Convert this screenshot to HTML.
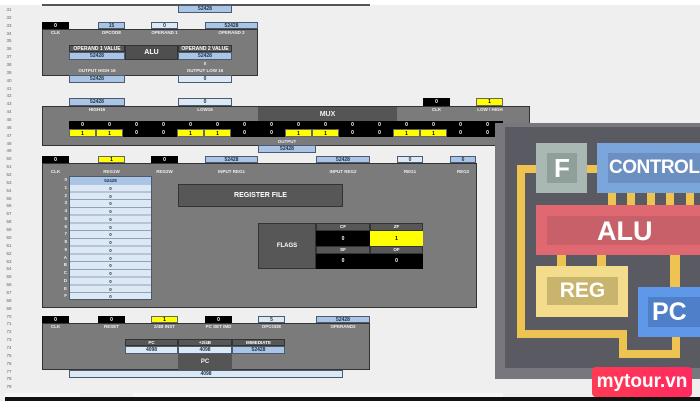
<!DOCTYPE html>
<html><head><meta charset="utf-8"><style>
*{margin:0;padding:0;box-sizing:border-box}
body{width:700px;height:408px;overflow:hidden;background:#efefef;position:relative;font-family:"Liberation Sans",sans-serif}
div{position:absolute}
.c{text-align:center;font-size:5px;font-weight:bold;line-height:8px;display:flex;align-items:center;justify-content:center}
.k{background:#000;color:#fff}
.y{background:#ffff00;color:#000;border:1px solid #666}
.bl{background:#a9c4e4;color:#234;border:1px solid #4a5a70}
.lt{background:#dde8f5;color:#234;border:1px solid #4a5a70}
.p{background:#7b7b7b;border:1px solid #333}
.dk{background:#575757;color:#fff;border:1px solid #333}
.lb{color:#eee;font-size:4.5px;font-weight:bold;text-align:center;line-height:6px}
.g{display:flex;flex-wrap:wrap}
.g span{width:27px;height:8px;font-size:5px;font-weight:bold;text-align:center;line-height:8px;color:#fff}
.g span.Y{background:#ffff00;color:#000;border:1px solid #666}
</style></head><body>
<div style="left:0;top:0;width:700px;height:5px;background:#fff"></div>
<div style="left:42px;top:4px;width:328px;height:2px;background:#555"></div>
<div style="left:2px;top:6px;width:14px;font-size:4.5px;line-height:7.86px;color:#666;text-align:center">31<br>32<br>33<br>34<br>35<br>36<br>37<br>38<br>39<br>40<br>41<br>42<br>43<br>44<br>45<br>46<br>47<br>48<br>49<br>50<br>51<br>52<br>53<br>54<br>55<br>56<br>57<br>58<br>59<br>60<br>61<br>62<br>63<br>64<br>65<br>66<br>67<br>68<br>69<br>70<br>71<br>72<br>73<br>74<br>75<br>76<br>77<br>78<br>79<br>80</div>

<div class="c bl" style="left:178px;top:5px;width:54px;height:8px">52428</div>
<div class="c k" style="left:42px;top:22px;width:27px;height:7px">0</div>
<div class="c bl" style="left:98px;top:22px;width:27px;height:7px">15</div>
<div class="c lt" style="left:151px;top:22px;width:27px;height:7px">0</div>
<div class="c bl" style="left:205px;top:22px;width:53px;height:7px">52428</div>
<div class="p" style="left:42px;top:29px;width:216px;height:47px"></div>
<div class="lb" style="left:42px;top:30px;width:27px">CLK</div>
<div class="lb" style="left:98px;top:30px;width:27px">OPCODE</div>
<div class="lb" style="left:151px;top:30px;width:27px">OPERAND 1</div>
<div class="lb" style="left:205px;top:30px;width:53px">OPERAND 2</div>
<div class="c dk" style="left:69px;top:45px;width:56px;height:7px">OPERAND 1 VALUE</div>
<div class="c bl" style="left:69px;top:52px;width:56px;height:8px">52428</div>
<div class="c dk" style="left:125px;top:45px;width:53px;height:15px;font-size:7px;background:#4f4f4f">ALU</div>
<div class="c dk" style="left:178px;top:45px;width:54px;height:7px">OPERAND 2 VALUE</div>
<div class="c bl" style="left:178px;top:52px;width:54px;height:8px">52428</div>
<div class="lb" style="left:178px;top:61px;width:54px">0</div>
<div class="lb" style="left:69px;top:68px;width:56px">OUTPUT HIGH 16</div>
<div class="lb" style="left:178px;top:68px;width:54px">OUTPUT LOW 16</div>
<div class="c bl" style="left:69px;top:75px;width:56px;height:8px">52428</div>
<div class="c lt" style="left:178px;top:75px;width:54px;height:8px">0</div>

<div class="c bl" style="left:69px;top:98px;width:56px;height:8px">52428</div>
<div class="c lt" style="left:178px;top:98px;width:54px;height:8px">0</div>
<div class="c k" style="left:423px;top:98px;width:27px;height:8px">0</div>
<div class="c y" style="left:476px;top:98px;width:27px;height:8px">1</div>
<div class="p" style="left:42px;top:106px;width:488px;height:40px"></div>
<div style="left:258px;top:107px;width:139px;height:15px;background:#555"></div>
<div class="c" style="left:258px;top:107px;width:139px;height:15px;color:#eee;font-size:7px">MUX</div>
<div class="lb" style="left:69px;top:107px;width:56px">HIGH16</div>
<div class="lb" style="left:178px;top:107px;width:54px">LOW16</div>
<div class="lb" style="left:423px;top:107px;width:27px">CLK</div>
<div class="lb" style="left:465px;top:107px;width:50px">LOW / HIGH</div>
<div class="g" style="left:69px;top:121px;width:434px;height:16px;background:#000">
<span>0</span><span>0</span><span>0</span><span>0</span><span>0</span><span>0</span><span>0</span><span>0</span><span>0</span><span>0</span><span>0</span><span>0</span><span>0</span><span>0</span><span>0</span><span>0</span>
<span class="Y">1</span><span class="Y">1</span><span>0</span><span>0</span><span class="Y">1</span><span class="Y">1</span><span>0</span><span>0</span><span class="Y">1</span><span class="Y">1</span><span>0</span><span>0</span><span class="Y">1</span><span class="Y">1</span><span>0</span><span>0</span></div>
<div class="lb" style="left:258px;top:139px;width:58px">OUTPUT</div>
<div class="c bl" style="left:258px;top:145px;width:58px;height:8px">52428</div>

<div class="c k" style="left:42px;top:156px;width:27px;height:7px">0</div>
<div class="c y" style="left:98px;top:156px;width:27px;height:7px">1</div>
<div class="c k" style="left:151px;top:156px;width:27px;height:7px">0</div>
<div class="c bl" style="left:205px;top:156px;width:53px;height:7px">52428</div>
<div class="c bl" style="left:316px;top:156px;width:54px;height:7px">52428</div>
<div class="c lt" style="left:397px;top:156px;width:26px;height:7px">0</div>
<div class="c bl" style="left:450px;top:156px;width:26px;height:7px">6</div>
<div class="p" style="left:42px;top:163px;width:435px;height:145px"></div>
<div class="lb" style="left:42px;top:169px;width:27px">CLK</div>
<div class="lb" style="left:98px;top:169px;width:27px">REG1W</div>
<div class="lb" style="left:151px;top:169px;width:27px">REG2W</div>
<div class="lb" style="left:205px;top:169px;width:53px">INPUT REG1</div>
<div class="lb" style="left:316px;top:169px;width:54px">INPUT REG2</div>
<div class="lb" style="left:397px;top:169px;width:26px">REG1</div>
<div class="lb" style="left:450px;top:169px;width:26px">REG2</div>
<div style="left:56px;top:176px;width:11px;font-size:4.5px;font-weight:bold;color:#eee;text-align:right;line-height:7.75px">0<br>1<br>2<br>3<br>4<br>5<br>6<br>7<br>8<br>9<br>A<br>B<br>C<br>D<br>E<br>F</div>
<div style="left:69px;top:176px;width:83px;height:124px;background:#dde8f5;border:1px solid #4a5a70;font-size:4.5px;font-weight:bold;color:#234;text-align:center;line-height:7.75px;background-image:repeating-linear-gradient(#dde8f5 0 6.75px,#8fa0b8 6.75px 7.75px)"><span style="background:#a9c4e4;display:block">52428</span>0<br>0<br>0<br>0<br>0<br>0<br>0<br>0<br>0<br>0<br>0<br>0<br>0<br>0<br>0</div>
<div class="c dk" style="left:178px;top:184px;width:165px;height:23px;font-size:7px">REGISTER FILE</div>
<div class="c dk" style="left:258px;top:223px;width:58px;height:46px;font-size:6px">FLAGS</div>
<div class="c dk" style="left:316px;top:223px;width:54px;height:8px;font-size:4.5px">CF</div>
<div class="c dk" style="left:370px;top:223px;width:53px;height:8px;font-size:4.5px">ZF</div>
<div class="c k" style="left:316px;top:231px;width:54px;height:15px">0</div>
<div class="c" style="left:370px;top:231px;width:53px;height:15px;background:#ffff00">1</div>
<div class="c dk" style="left:316px;top:246px;width:54px;height:8px;font-size:4.5px">SF</div>
<div class="c dk" style="left:370px;top:246px;width:53px;height:8px;font-size:4.5px">OF</div>
<div class="c k" style="left:316px;top:254px;width:107px;height:15px;display:block"><span style="position:absolute;left:0;width:54px;line-height:15px">0</span><span style="position:absolute;left:54px;width:53px;line-height:15px">0</span></div>

<div class="c k" style="left:42px;top:316px;width:27px;height:7px">0</div>
<div class="c k" style="left:98px;top:316px;width:27px;height:7px">0</div>
<div class="c y" style="left:151px;top:316px;width:27px;height:7px">1</div>
<div class="c k" style="left:205px;top:316px;width:27px;height:7px">0</div>
<div class="c lt" style="left:258px;top:316px;width:27px;height:7px">5</div>
<div class="c bl" style="left:316px;top:316px;width:54px;height:7px">52428</div>
<div class="p" style="left:42px;top:323px;width:328px;height:47px"></div>
<div class="lb" style="left:42px;top:324px;width:27px">CLK</div>
<div class="lb" style="left:98px;top:324px;width:27px">RESET</div>
<div class="lb" style="left:145px;top:324px;width:39px">2/4B INST</div>
<div class="lb" style="left:200px;top:324px;width:37px">PC SET IMD</div>
<div class="lb" style="left:258px;top:324px;width:27px">OPCODE</div>
<div class="lb" style="left:316px;top:324px;width:54px">OPERAND2</div>
<div class="c dk" style="left:125px;top:339px;width:53px;height:7px;font-size:4.5px">PC</div>
<div class="c dk" style="left:178px;top:339px;width:54px;height:7px;font-size:4.5px">+2/4B</div>
<div class="c dk" style="left:232px;top:339px;width:53px;height:7px;font-size:4.5px">IMMEDIATE</div>
<div class="c lt" style="left:125px;top:346px;width:53px;height:8px">4098</div>
<div class="c lt" style="left:178px;top:346px;width:54px;height:8px">4098</div>
<div class="c bl" style="left:232px;top:346px;width:53px;height:8px">52428</div>
<div class="c" style="left:178px;top:354px;width:54px;height:16px;background:#555;color:#eee;font-size:6px">PC</div>
<div class="c lt" style="left:69px;top:370px;width:274px;height:8px">4098</div>

<div style="left:5px;top:393px;width:75px;height:4px;background:#f6f6f6"></div>
<div style="left:133px;top:393px;width:370px;height:4px;background:#f6f6f6"></div>
<div style="left:5px;top:397px;width:695px;height:4px;background:#111"></div>
<div style="left:0;top:401px;width:700px;height:7px;background:#fff"></div>

<div style="left:495px;top:123px;width:205px;height:256px;background:#77777d"></div>
<div style="left:505px;top:127px;width:195px;height:241px;background:#5a5a62"></div>
<div style="left:517px;top:165px;width:8px;height:173px;background:#efc352"></div>
<div style="left:517px;top:165px;width:20px;height:8px;background:#efc352"></div>
<div style="left:517px;top:330px;width:110px;height:8px;background:#efc352"></div>
<div style="left:619px;top:330px;width:8px;height:28px;background:#efc352"></div>
<div style="left:619px;top:350px;width:61px;height:8px;background:#efc352"></div>
<div style="left:672px;top:330px;width:8px;height:28px;background:#efc352"></div>
<div style="left:586px;top:165px;width:12px;height:8px;background:#efc352"></div>
<div style="left:608px;top:192px;width:8px;height:14px;background:#efc352"></div>
<div style="left:627px;top:192px;width:8px;height:14px;background:#efc352"></div>
<div style="left:647px;top:192px;width:8px;height:14px;background:#efc352"></div>
<div style="left:666px;top:192px;width:8px;height:14px;background:#efc352"></div>
<div style="left:686px;top:192px;width:8px;height:14px;background:#efc352"></div>
<div style="left:557px;top:254px;width:9px;height:13px;background:#efc352"></div>
<div style="left:597px;top:254px;width:9px;height:13px;background:#efc352"></div>
<div style="left:670px;top:254px;width:10px;height:34px;background:#efc352"></div>
<div style="left:536px;top:143px;width:51px;height:50px;background:#a9b8b3"></div>
<div class="c" style="left:547px;top:153px;width:30px;height:30px;background:#8fa09b;color:#fff;font-size:26px">F</div>
<div style="left:597px;top:143px;width:103px;height:50px;background:#7aa6dc"></div>
<div style="left:608px;top:153px;width:92px;height:30px;background:#6a8fc0;color:#fff;font-size:19px;font-weight:bold;line-height:30px;padding-left:1px;white-space:nowrap;overflow:hidden;letter-spacing:-0.5px">CONTROL</div>
<div style="left:536px;top:205px;width:164px;height:50px;background:#e06870"></div>
<div class="c" style="left:547px;top:216px;width:153px;height:29px;background:#c8606a;color:#fff;font-size:27px;justify-content:flex-start;padding-left:50px">ALU</div>
<div style="left:536px;top:266px;width:92px;height:51px;background:#f3dc8c"></div>
<div class="c" style="left:547px;top:277px;width:71px;height:28px;background:#c8b46c;color:#fff;font-size:21px">REG</div>
<div style="left:638px;top:287px;width:62px;height:50px;background:#5f98e8"></div>
<div class="c" style="left:648px;top:297px;width:52px;height:30px;background:#4f7fc8;color:#fff;font-size:25px;justify-content:flex-start;padding-left:4px">PC</div>
<div class="c" style="left:592px;top:367px;width:100px;height:30px;border-radius:4px;background:linear-gradient(90deg,#ff3a55,#ff2a60);color:#fff;font-size:19px;font-weight:bold">mytour.vn</div>
</body></html>
